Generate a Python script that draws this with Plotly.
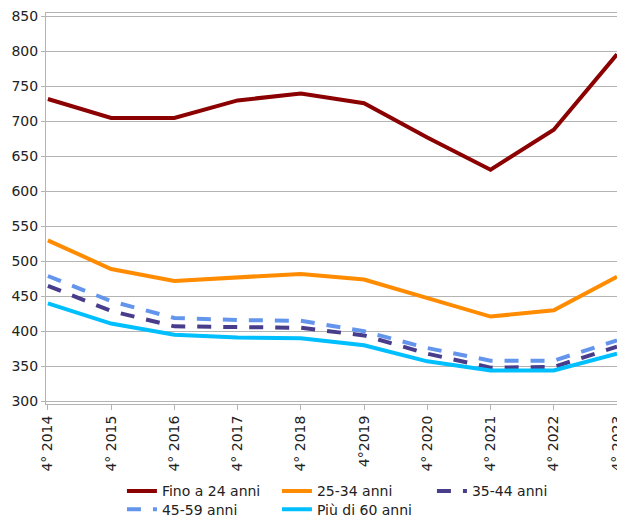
import plotly.graph_objects as go

categories = ["4° 2014", "4° 2015", "4° 2016", "4° 2017", "4° 2018",
              "4°2019", "4° 2020", "4° 2021", "4° 2022", "4° 2023"]

fino_24 = [732, 705, 705, 730, 740, 726, 677, 631, 688, 796]
anni_25_34 = [530, 489, 472, 477, 482, 474, 448, 421, 430, 478]
anni_35_44 = [465, 429, 407, 406, 405, 394, 368, 348, 349, 378]
anni_45_59 = [479, 443, 419, 416, 415, 400, 376, 358, 358, 387]
piu_60 = [440, 411, 395, 391, 390, 380, 357, 344, 344, 368]

series_names = ["Fino a 24 anni", "25-34 anni", "35-44 anni", "45-59 anni", "Più di 60 anni"]
series_values = [fino_24, anni_25_34, anni_35_44, anni_45_59, piu_60]
series_colors = ["#8b0000", "#ff8c00", "#483d8b", "#6495ed", "#00bfff"]
series_dash = ["solid", "solid", "14px,12px", "14px,12px", "solid"]
series_legend = ["legend", "legend", "legend", "legend2", "legend2"]

y_ticks = [300, 350, 400, 450, 500, 550, 600, 650, 700, 750, 800, 850]

fig = go.Figure()
xs = list(range(len(categories)))
for name, vals, col, dash, lg in zip(series_names, series_values, series_colors,
                                      series_dash, series_legend):
    fig.add_trace(go.Scatter(
        x=xs, y=vals, name=name, mode="lines", legend=lg,
        line=dict(color=col, width=4, dash=dash),
    ))

grid = "#b3b3b3"
font = dict(family="DejaVu Sans", size=14, color="#222222")

legend_common = dict(
    orientation="h", x=0.133, xanchor="left", yanchor="top",
    entrywidth=110, entrywidthmode="pixels",
    font=font, itemwidth=30, traceorder="normal",
    bgcolor="rgba(0,0,0,0)",
)

fig.update_layout(
    width=617, height=517,
    margin=dict(l=46, r=0, t=13, b=113, autoexpand=False),
    paper_bgcolor="white", plot_bgcolor="white",
    font=font,
    showlegend=True,
    legend=dict(y=-0.1825, **legend_common),
    legend2=dict(y=-0.229, **legend_common),
    xaxis=dict(
        range=[-0.03, 9], tickmode="array", tickvals=xs, ticktext=categories,
        tickangle=-90, ticks="outside", ticklen=5, tickcolor=grid,
        ticklabeloverflow="allow",
        showgrid=False, showline=True, linecolor=grid, linewidth=1, mirror=True,
        zeroline=False, automargin=False, fixedrange=True,
    ),
    yaxis=dict(
        range=[296, 855], tickmode="array", tickvals=y_ticks,
        ticks="outside", ticklen=4, tickcolor=grid,
        showgrid=True, gridcolor=grid, gridwidth=1,
        showline=True, linecolor=grid, linewidth=1,
        zeroline=False, automargin=False,
    ),
)

fig.write_html(
    "out.html",
    config={"displayModeBar": False},
    post_script="document.body.style.margin='0';document.body.style.overflow='hidden';",
)
